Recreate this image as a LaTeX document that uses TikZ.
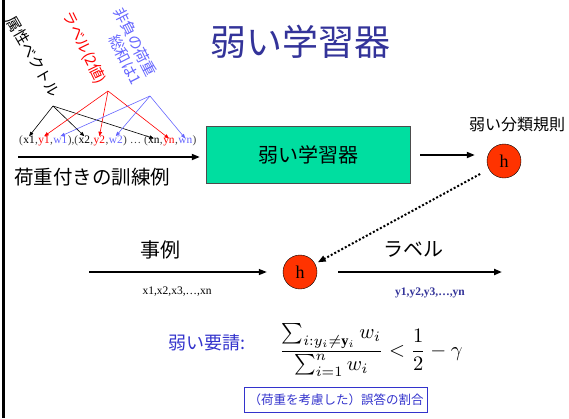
\documentclass[tikz,border=0pt]{standalone}
\usepackage{amsmath}
\usepackage{fontspec}
\setmainfont{Liberation Serif}
\newfontfamily\jp{Noto Sans CJK JP}
\usetikzlibrary{calc, positioning, arrows.meta}
\definecolor{titleblue}{RGB}{51, 51, 153}
\definecolor{reqblue}{RGB}{51, 51, 204}
\definecolor{wblue}{RGB}{102, 102, 255}
\definecolor{yred}{RGB}{255, 0, 0}
\definecolor{boxgreen}{RGB}{0, 222, 160}
\definecolor{hred}{RGB}{255, 51, 0}
\definecolor{tupgray}{RGB}{64, 64, 64}

\begin{document}
\begin{tikzpicture}[x=1pt, y=-1pt, >={Triangle[length=8pt, width=6pt]},
  jfont/.style={font=\jp\fontsize{#1}{17}\selectfont},
  tup/.style={inner sep=0pt, anchor=base west, font=\fontsize{11.4}{14}\selectfont},
  fan/.style={-{Triangle[length=4.5pt, width=3.5pt]}, line width=0.6pt},
  hnode/.style={circle, draw, fill=hred, minimum size=34pt, inner sep=0pt,
    font=\fontsize{18}{18}\selectfont}]
  \useasboundingbox (0,0) rectangle (569,418);
  \draw[line width=2.5pt] (3.5,0) -- (3.5,418);

  \node[jfont=36, text=titleblue] (title) at (300,42) {弱い学習器};

  % training examples
  \node[jfont=15, rotate=-60] (attr) at (33,57) {属性ベクトル};
  \node[jfont=15, rotate=-64, text=yred] (lab) at (84,48) {ラベル(2値)};
  \node[jfont=15, rotate=-63, text=wblue, align=right] (wt) at (128,46) {非負の荷重\\総和は1};

  \node[tup, text=tupgray] (t0) at (19,143) {(};
  \node[tup] (x1) at (t0.base east) {x1};
  \node[tup, text=tupgray] (t1) at (x1.base east) {,};
  \node[tup, text=yred] (y1) at (t1.base east) {y1};
  \node[tup, text=tupgray] (t2) at (y1.base east) {,};
  \node[tup, text=wblue] (w1) at (t2.base east) {w1};
  \node[tup, text=tupgray] (t3) at (w1.base east) {),(};
  \node[tup] (x2) at (t3.base east) {x2};
  \node[tup, text=tupgray] (t4) at (x2.base east) {,};
  \node[tup, text=yred] (y2) at (t4.base east) {y2};
  \node[tup, text=tupgray] (t5) at (y2.base east) {,};
  \node[tup, text=wblue] (w2) at (t5.base east) {w2};
  \node[tup, text=tupgray] (t6) at (w2.base east) {) \dots\ (};
  \node[tup] (xn) at (t6.base east) {xn};
  \node[tup, text=tupgray] (t7) at (xn.base east) {,};
  \node[tup, text=yred] (yn) at (t7.base east) {yn};
  \node[tup, text=tupgray] (t8) at (yn.base east) {,};
  \node[tup, text=wblue] (wn) at (t8.base east) {wn};
  \node[tup, text=tupgray] (t9) at (wn.base east) {)};

  \coordinate (fk) at (53,106);
  \coordinate (fr) at (108,91);
  \coordinate (fb) at (150,96);
  \foreach \t in {x1, x2, xn}
    \draw[fan] (fk) -- ([yshift=-1pt]\t.north);
  \foreach \t in {y1, y2, yn}
    \draw[fan, yred] (fr) -- ([yshift=-1pt]\t.north);
  \foreach \t in {w1, w2, wn}
    \draw[fan, wblue] (fb) -- ([yshift=-1pt]\t.north);

  \node[jfont=19.5] (train) at (92,177) {荷重付きの訓練例};

  % learner
  \node[draw=black!70, fill=boxgreen, minimum width=204pt, minimum height=57pt,
    jfont=20] (wl) at (308,155) {弱い学習器};
  \coordinate (tin) at (18,157);
  \draw[->, line width=1.8pt, shorten >=6pt] (tin) -- (tin -| wl.west);

  \node[hnode] (h1) at (504,161) {h};
  \node[jfont=16] (rule) at (517,125) {弱い分類規則};
  \draw[->, line width=1.8pt] ([xshift=10pt]wl.east) -- ([xshift=-12pt]wl.east -| h1.west);

  % prediction
  \node[hnode] (h2) at (300,272) {h};
  \draw[->, line width=2pt, dash pattern=on 2pt off 2pt, shorten <=10pt, shorten >=3pt] (h1) -- (h2);

  \coordinate (ein) at (89,272);
  \coordinate (lout) at (502,272);
  \draw[->, line width=1.3pt, shorten >=16pt] (ein) -- (h2);
  \draw[->, line width=2.2pt, shorten <=21pt] (h2) -- (lout);

  \node[jfont=20] (ex) at (160,250) {事例};
  \node[font=\fontsize{11.5}{13}\selectfont] (xs) at (177,292) {x1,x2,x3,\dots,xn};
  \node[jfont=20] (lb) at (413,249) {ラベル};
  \node[font=\bfseries\fontsize{11.5}{13}\selectfont, text=titleblue] (ys) at (430,293) {y1,y2,y3,\dots,yn};

  % requirement
  \node[jfont=18, text=reqblue] (req) at (207,343) {弱い要請:};
  \node[scale=2.05] (frm) at (371,350)
    {$\displaystyle\frac{\sum_{i:y_i\neq\mathbf{y}_i} w_i}{\sum_{i=1}^{n} w_i} < \frac{1}{2} - \gamma$};
  \node[draw=reqblue, text=reqblue, jfont=12.5, minimum width=183pt, minimum height=25pt,
    inner sep=0pt] (note) at (336,400) {（荷重を考慮した）誤答の割合};
\end{tikzpicture}
\end{document}
